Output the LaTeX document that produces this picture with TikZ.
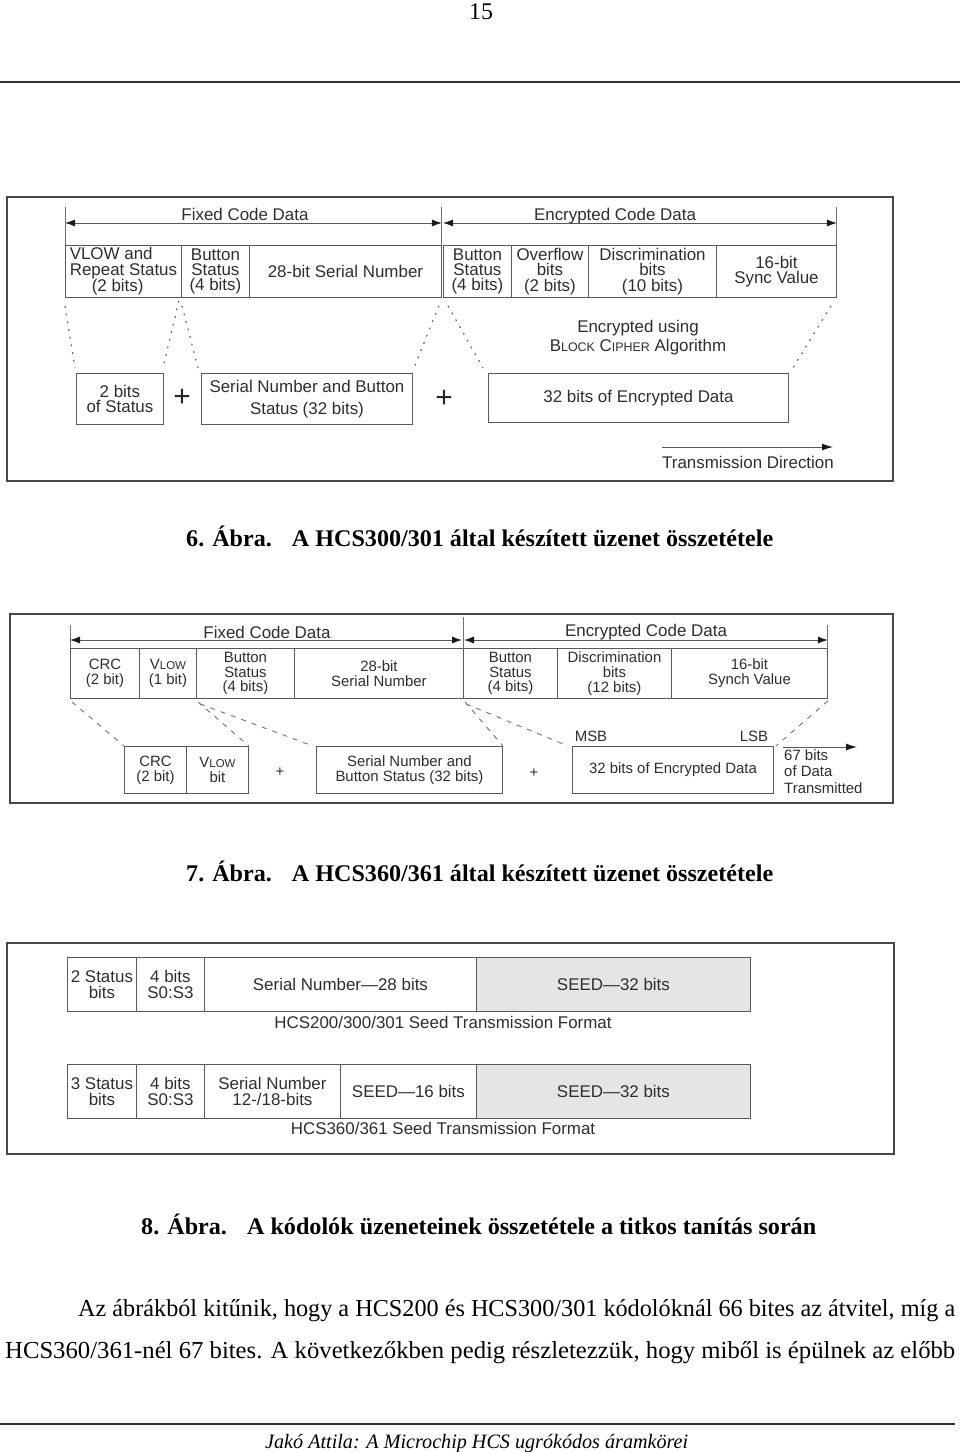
\documentclass[tikz,border=0pt]{standalone}
\usepackage{graphicx}
\usepackage{fontspec}
\setmainfont{Liberation Serif}
\newfontfamily\dsans{Liberation Sans}
\usetikzlibrary{arrows.meta,calc}
\newcommand\fitw[2]{\resizebox{#1}{\height}{#2}}
\tikzset{
 frame/.style={draw=black!72, line width=2.6bp},
 cell/.style={draw=black!65, line width=0.9bp, inner sep=0pt, anchor=north west, align=center, text=black!82, font=\dsans\fontsize{17}{15.5}\selectfont},
 cellb/.style={cell, font=\dsans\fontsize{15}{15}\selectfont},
 graycell/.style={fill=black!10},
 lbl/.style={inner sep=0pt, text=black!82, font=\dsans\fontsize{17}{19}\selectfont, align=center},
 lblb/.style={inner sep=0pt, text=black!82, font=\dsans\fontsize{15}{17}\selectfont},
 dimline/.style={draw=black!65, line width=0.9bp, {Latex[length=10bp,width=7bp,fill=black!90,color=black!90]}-{Latex[length=10bp,width=7bp,fill=black!90,color=black!90]}},
 onearrow/.style={draw=black!65, line width=0.9bp, -{Latex[length=11bp,width=7bp,fill=black!90,color=black!90]}},
 tickline/.style={draw=black!55, line width=0.9bp},
 dotline/.style={draw=black!60, line width=1.2bp, dash pattern=on 1.8bp off 6bp},
 dashline/.style={draw=black!55, line width=0.9bp, dash pattern=on 5bp off 6bp},
 plusbig/.style={inner sep=0pt, text=black!85, font=\dsans\fontsize{30}{30}\selectfont},
 plussmall/.style={inner sep=0pt, text=black!80, font=\dsans\fontsize{15}{15}\selectfont},
 serif/.style={inner sep=0pt, anchor=base west, font=\fontsize{24.5}{24.5}\selectfont},
 capt/.style={inner sep=0pt, anchor=base west, font=\bfseries\fontsize{24}{24}\selectfont},
 rule/.style={draw=black!80, line width=1.4bp},
}
\begin{document}
\begin{tikzpicture}[x=1bp, y={(0bp,-1bp)}]
\useasboundingbox (0,0) rectangle (960,1452);
\fill[white] (0,0) rectangle (960,1452);

% page header
\node[inner sep=0pt, anchor=base, font=\fontsize{24}{24}\selectfont] (pageno) at (481,20) {15};
\coordinate (hrA) at (0,82);
\coordinate (hrB) at (960,82);
\draw[rule] (hrA) -- (hrB);

% ---------------- Figure 6 ----------------
\draw[frame] (7,197) rectangle (893,481);
\node[cell, minimum width=116bp, minimum height=52bp, align=left] (vlow) at (65,245) {VLOW and\\Repeat Status\\\hspace*{22bp}(2 bits)};
\node[cell, minimum width=68bp, minimum height=52bp] (bst1) at (181,245) {Button\\Status\\(4 bits)};
\node[cell, minimum width=192bp, minimum height=52bp] (ser1) at (249,245) {28-bit Serial Number};
\node[cell, minimum width=68bp, minimum height=52bp] (bst2) at (443,245) {Button\\Status\\(4 bits)};
\node[cell, minimum width=77bp, minimum height=52bp] (ovf) at (511,245) {Overflow\\bits\\(2 bits)};
\node[cell, minimum width=128bp, minimum height=52bp] (disc) at (588,245) {Discrimination\\bits\\(10 bits)};
\node[cell, minimum width=120bp, minimum height=52bp] (sync) at (716,245) {16-bit\\Sync Value};

\draw[tickline] (vlow.north west) -- ++(0,-38);
\draw[tickline] (ser1.north east) -- ++(0,-38);
\draw[tickline] (sync.north east) -- ++(0,-38);
\coordinate (f1a) at ($(vlow.north west)+(0,-22)$);
\coordinate (f1b) at ($(ser1.north east)+(0,-22)$);
\coordinate (f1c) at ($(bst2.north west)+(0,-22)$);
\coordinate (f1d) at ($(sync.north east)+(0,-22)$);
\draw[dimline] (f1a) -- (f1b);
\draw[dimline] (f1c) -- (f1d);
\node[lbl] (fcd1) at (245,214) {Fixed Code Data};
\node[lbl] (ecd1) at (615,216) {Encrypted Code Data};

\node[cell, minimum width=87bp, minimum height=51bp] (twob) at (76,373) {2 bits\\of Status};
\node[cell, minimum width=211bp, minimum height=51bp, font=\dsans\fontsize{17}{22}\selectfont] (sn32) at (201,373) {Serial Number and Button\\Status (32 bits)};
\node[cell, minimum width=300bp, minimum height=49bp] (enc) at (488,373) {32 bits of Encrypted Data};
\node[plusbig] (plusA) at (182,398) {+};
\node[plusbig] (plusB) at (444,399) {+};
\node[lbl] (encusing) at (638,338) {Encrypted using\\B{\fontsize{12.5}{12.5}\selectfont LOCK} C{\fontsize{12.5}{12.5}\selectfont IPHER} Algorithm};

\draw[dotline] ([xshift=0bp,yshift=-8bp]vlow.south west) -- ([xshift=-1bp,yshift=5bp]twob.north west);
\draw[dotline] ([xshift=-3bp,yshift=-3bp]vlow.south east) -- ([xshift=-1bp,yshift=5bp]twob.north east);
\draw[dotline] ([xshift=1bp,yshift=-8bp]bst1.south west) -- ([xshift=-3bp,yshift=5bp]sn32.north west);
\draw[dotline] ([xshift=-3bp,yshift=-8bp]ser1.south east) -- ([xshift=1bp,yshift=5bp]sn32.north east);
\draw[dotline] ([xshift=5bp,yshift=-8bp]bst2.south west) -- ([xshift=-5bp,yshift=5bp]enc.north west);
\draw[dotline] ([xshift=-6bp,yshift=-8bp]sync.south east) -- ([xshift=4bp,yshift=5bp]enc.north east);

\coordinate (td1) at (662,447);
\coordinate (td2) at (833,447);
\draw[onearrow] (td1) -- (td2);
\node[lbl] (tdir) at (748,462) {Transmission Direction};

\node[capt] (cap6) at (186,546) {\fitw{587bp}{6. Ábra.\hspace{0.5em} A HCS300/301 által készített üzenet összetétele}};

% ---------------- Figure 7 ----------------
\draw[frame] (10,614) rectangle (893,803);
\node[cellb, minimum width=69bp, minimum height=50bp] (crc) at (70,648) {CRC\\(2 bit)};
\node[cellb, minimum width=57bp, minimum height=50bp] (vlw) at (139,648) {V{\fontsize{11.5}{11.5}\selectfont LOW}\\(1 bit)};
\node[cellb, minimum width=98bp, minimum height=50bp] (bst3) at (196,648) {Button\\Status\\(4 bits)};
\node[cellb, minimum width=169bp, minimum height=50bp] (ser2) at (294,648) {28-bit\\Serial Number};
\node[cellb, minimum width=94bp, minimum height=50bp] (bst4) at (463,648) {Button\\Status\\(4 bits)};
\node[cellb, minimum width=114bp, minimum height=50bp] (disc2) at (557,648) {Discrimination\\bits\\(12 bits)};
\node[cellb, minimum width=156bp, minimum height=50bp] (syn2) at (671,648) {16-bit\\Synch Value};

\draw[tickline] (crc.north west) -- ++(0,-23);
\draw[tickline] (bst4.north west) -- ++(0,-31);
\draw[tickline] (syn2.north east) -- ++(0,-23);
\coordinate (f2a) at ($(crc.north west)+(0,-8)$);
\coordinate (f2b) at ($(bst4.north west)+(-1,-8)$);
\coordinate (f2c) at ($(bst4.north west)+(1,-8)$);
\coordinate (f2d) at ($(syn2.north east)+(0,-8)$);
\draw[dimline] (f2a) -- (f2b);
\draw[dimline] (f2c) -- (f2d);
\node[lbl] (fcd2) at (267,632) {Fixed Code Data};
\node[lbl] (ecd2) at (646,632) {Encrypted Code Data};

\node[cellb, minimum width=62bp, minimum height=47bp] (crc2) at (124,746) {CRC\\(2 bit)};
\node[cellb, minimum width=62bp, minimum height=47bp] (vlw2) at (186,746) {V{\fontsize{11.5}{11.5}\selectfont LOW}\\bit};
\node[cellb, minimum width=186bp, minimum height=47bp] (sn2) at (316,746) {Serial Number and\\Button Status (32 bits)};
\node[cellb, minimum width=201bp, minimum height=47bp] (enc2) at (572,746) {32 bits of Encrypted Data};
\node[plussmall] (plusC) at (280,772) {+};
\node[plussmall] (plusD) at (534,773) {+};
\node[lblb] (msb) at (591,736) {MSB};
\node[lblb] (lsb) at (754,736) {LSB};
\coordinate (t2a) at (783,747);
\coordinate (t2b) at (857,747);
\draw[onearrow] (t2a) -- (t2b);
\node[lblb, anchor=north west, align=left] (bits67) at (784,749) {67 bits\\of Data\\Transmitted};

\draw[dashline] ([xshift=2bp,yshift=-3bp]crc.south west) -- (crc2.north west);
\draw[dashline] ([xshift=1bp,yshift=-3bp]vlw.south east) -- (vlw2.north east);
\draw[dashline] ([xshift=4bp,yshift=-5bp]bst3.south west) -- ([xshift=-3bp]sn2.north west);
\draw[dashline] ([xshift=2bp,yshift=-3bp]bst4.south west) -- (sn2.north east);
\draw[dashline] ([xshift=3bp,yshift=-5bp]bst4.south west) -- ([xshift=-4bp]enc2.north west);
\draw[dashline] ([yshift=-2bp]syn2.south east) -- ([xshift=2bp]enc2.north east);

\node[capt] (cap7) at (186,881) {\fitw{587bp}{7. Ábra.\hspace{0.5em} A HCS360/361 által készített üzenet összetétele}};

% ---------------- Figure 8 ----------------
\draw[frame] (7,943) rectangle (894,1154);
\node[cell, minimum width=69bp, minimum height=54bp] (s2) at (67,957) {2 Status\\bits};
\node[cell, minimum width=68bp, minimum height=54bp] (s4a) at (136,957) {4 bits\\S0:S3};
\node[cell, minimum width=272bp, minimum height=54bp] (sn28) at (204,957) {Serial Number—28 bits};
\node[cell, graycell, minimum width=274bp, minimum height=54bp] (seed1) at (476,957) {SEED—32 bits};
\node[lbl] (fmt1) at (443,1022) {HCS200/300/301 Seed Transmission Format};

\node[cell, minimum width=69bp, minimum height=54bp] (s3) at (67,1064) {3 Status\\bits};
\node[cell, minimum width=68bp, minimum height=54bp] (s4b) at (136,1064) {4 bits\\S0:S3};
\node[cell, minimum width=136bp, minimum height=54bp] (sn1218) at (204,1064) {Serial Number\\12-/18-bits};
\node[cell, minimum width=136bp, minimum height=54bp] (seed16) at (340,1064) {SEED—16 bits};
\node[cell, graycell, minimum width=274bp, minimum height=54bp] (seed2) at (476,1064) {SEED—32 bits};
\node[lbl] (fmt2) at (443,1128) {HCS360/361 Seed Transmission Format};

\node[capt] (cap8) at (141,1234) {\fitw{675bp}{8. Ábra.\hspace{0.5em} A kódolók üzeneteinek összetétele a titkos tanítás során}};

% ---------------- body text ----------------
\node[serif] (par1) at (78,1316) {\fitw{877bp}{Az ábrákból kitűnik, hogy a HCS200 és HCS300/301 kódolóknál 66 bites az átvitel, míg a}};
\node[serif] (par2) at (5,1358) {\fitw{950bp}{HCS360/361-nél 67 bites. A következőkben pedig részletezzük, hogy miből is épülnek az előbb}};

% footer
\coordinate (frA) at (0,1424);
\coordinate (frB) at (955,1424);
\draw[rule] (frA) -- (frB);
\node[inner sep=0pt, anchor=base west, font=\itshape\fontsize{20.5}{20.5}\selectfont] (footer) at (265,1448) {\fitw{423bp}{Jakó Attila: A Microchip HCS ugrókódos áramkörei}};
\end{tikzpicture}
\end{document}
